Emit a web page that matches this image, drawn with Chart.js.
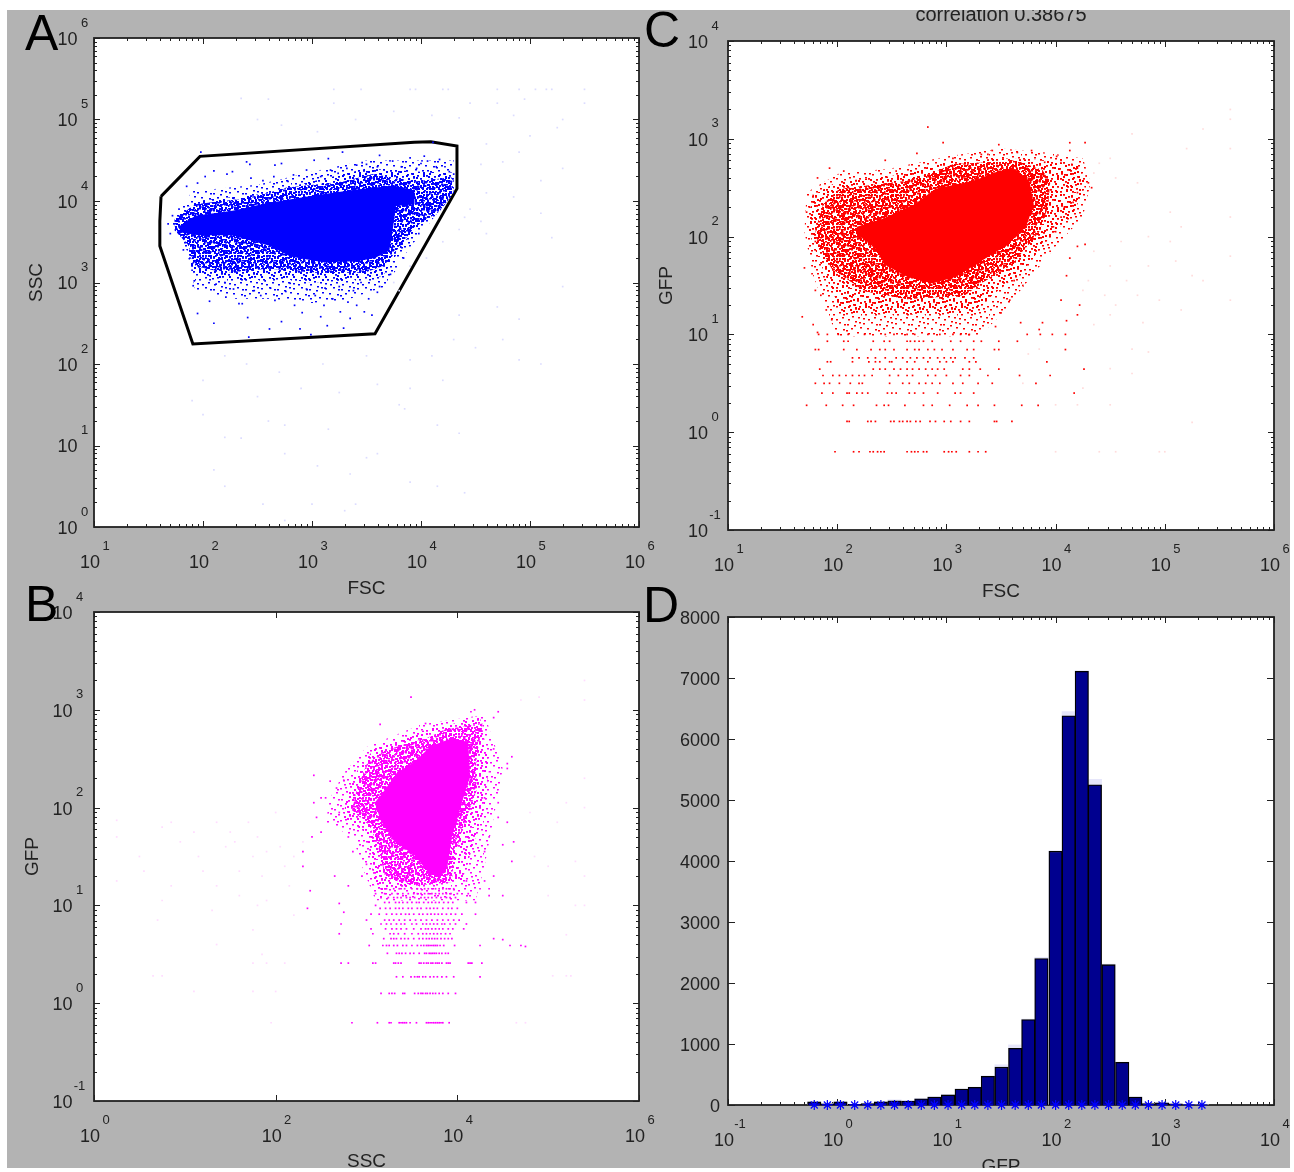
<!DOCTYPE html>
<html><head><meta charset="utf-8">
<script src="https://cdn.jsdelivr.net/npm/chart.js@4"></script>
<style>
html,body{margin:0;padding:0;background:#fff;width:1294px;height:1172px;overflow:hidden}
#sheet{position:absolute;left:7px;top:10px;width:1283px;height:1158px;background:#b3b3b3;overflow:hidden;filter:blur(.45px)}
canvas{position:absolute}
.tag{position:absolute;font:50px/50px "Liberation Sans",sans-serif;color:#000}
</style></head><body>
<div id="sheet"></div>
<script>
// ---------- Values (log10 units of each axis) ----------
const categoriesGFP = [-0.21,-0.09,0.03,0.16,0.28,0.40,0.525,0.65,0.77,0.89,1.015,1.14,1.26,1.38,1.505,1.63,1.75,1.87,2.00,2.12,2.24,2.36,2.485,2.61,2.73,2.85,2.975,3.10,3.22,3.34];
const countsGated = [50,20,50,10,25,50,70,65,100,130,165,260,290,470,620,930,1400,2400,4160,6380,7110,5250,2300,700,130,25,35,20,5,3];
const countsAll   = [55,25,55,12,30,55,85,75,110,140,175,265,295,480,660,985,1410,2420,4170,6450,7120,5340,2310,705,135,30,38,22,8,5];

const gateA = [[1.615,4.057],[1.972,4.548],[3.938,4.722],[4.09,4.726],[4.33,4.675],[4.33,4.151],[3.578,2.372],[1.907,2.246],[1.604,3.449],[1.604,3.753],[1.615,4.057]];
const coreA = [[1.77,3.68],[1.93,3.82],[2.27,3.88],[2.57,3.97],[3.03,4.07],[3.41,4.14],[3.75,4.19],[3.94,4.13],[3.94,3.96],[3.77,3.94],[3.74,3.64],[3.71,3.40],[3.58,3.30],[3.41,3.26],[3.10,3.25],[2.80,3.32],[2.61,3.45],[2.42,3.52],[2.27,3.58],[1.96,3.58],[1.81,3.61]];
const haloA = [[1.74,3.78],[1.93,3.96],[2.38,4.03],[2.80,4.17],[3.29,4.24],[3.56,4.33],[3.94,4.24],[4.28,4.29],[4.30,4.10],[4.17,3.87],[3.94,3.68],[3.81,3.45],[3.67,3.21],[3.48,3.12],[3.03,3.12],[2.61,3.17],[2.19,3.12],[1.91,3.21],[1.87,3.45],[1.74,3.64]];
const midA = [[1.93,4.0],[2.5,4.08],[3.0,4.24],[3.5,4.40],[4.0,4.36],[4.3,4.35],[4.3,4.1],[3.85,3.5],[3.65,3.08],[3.3,3.02],[3.0,3.0],[2.7,3.05],[2.4,3.02],[2.1,3.06],[1.9,3.12],[1.86,3.5],[1.72,3.72]];
const fringeA = [[1.9,4.12],[2.5,4.2],[3.0,4.36],[3.5,4.5],[4.05,4.5],[4.3,4.5],[4.3,4.1],[3.88,3.4],[3.68,2.95],[3.3,2.78],[3.0,2.75],[2.6,2.8],[2.3,2.8],[1.93,2.9],[1.85,3.4],[1.7,3.7]];
const sparseA = [[2.10,2.50],[2.42,2.33],[2.61,2.43],[2.89,2.43],[2.99,2.36],[3.14,2.47],[3.29,2.44],[1.95,2.62],[2.06,2.77],[2.36,2.74],[2.41,2.57],[2.72,2.52],[2.91,2.63],[3.08,2.58],[3.26,2.64],[3.35,2.56],[3.48,2.64],[3.41,2.72],[3.60,2.88],[3.03,2.84],[2.76,2.89],[2.53,2.84],[2.21,2.82],[1.91,2.96],[2.33,2.74],[2.66,2.78],[2.84,2.72],[3.11,2.72],[3.19,2.80],[3.33,2.76],[3.52,2.80],[2.28,2.92],[2.47,2.90],[2.62,2.93],[2.95,2.92],[3.38,2.90],[3.12,2.93],[2.12,2.98],[1.92,3.02],[3.55,2.60],[2.2,3.0],[2.57,3.02],[2.8,2.99],[3.25,2.95],[3.45,3.0],[3.62,2.95],
[2.40,4.48],[2.43,4.45],[2.66,4.44],[2.72,4.46],[3.02,4.50],[3.15,4.52],[3.41,4.44],[3.50,4.45],[3.74,4.49],[3.90,4.53],[4.03,4.55],[4.06,4.49],[4.17,4.51],[4.14,4.42],[3.28,4.60],[3.62,4.56],[4.11,4.72],[2.02,4.3],[2.1,4.37],[2.22,4.33],[2.27,4.36],[2.55,4.25],[2.83,4.32],[2.95,4.38],[3.17,4.38],[3.32,4.40],[3.46,4.47],[3.6,4.42],[3.82,4.42],[3.96,4.40],[4.0,4.46],[4.22,4.42],[4.26,4.36],[4.3,4.33],[1.95,4.22],[1.85,4.18],[2.44,4.28],[2.65,4.3],[2.78,4.24],[3.08,4.3],[3.24,4.34],[1.98,4.6],[1.78,3.9],[1.72,3.82],[1.68,3.72],[1.7,3.6],[1.82,3.4],[1.88,3.3],[1.9,3.15],[4.2,4.2],[4.28,4.24],[3.88,3.75],[3.98,3.6],[3.84,3.3],[3.72,3.1]];
const faintA = [[3.2,5.37],[3.45,5.37],[3.9,5.37],[3.95,5.37],[4.2,5.37],[4.25,5.37],[4.7,5.37],[4.9,5.37],[5.05,5.37],[5.15,5.37],[5.2,5.37],[5.5,5.37],[2.35,5.26],[2.6,5.25],[3.2,5.2],[4.45,5.2],[4.7,5.2],[4.95,5.25],[3.75,5.1],[3.4,5.0],[2.5,5.0],[2.72,4.93],[3.05,4.85],[4.1,5.05],[4.35,5.02],[4.85,5.05],[5.3,5.0],[5.5,5.2],[5.25,4.9],[5.0,4.8],[4.6,4.7],[4.55,4.45],[4.75,4.48],[4.9,4.6],[5.1,4.25],[5.3,4.4],[4.6,4.1],[4.85,4.05],[5.1,3.85],[5.2,3.55],[4.55,3.75],[4.4,3.8],[4.45,3.9],[4.35,3.65],[4.6,3.6],[4.2,3.5],[4.05,3.3],[3.9,3.2],[3.75,3.0],[3.8,2.9],[4.35,2.6],[4.7,2.7],[4.9,2.55],[5.3,2.95],[4.3,2.3],[4.5,2.2],[4.75,2.3],[4.9,2.05],[5.1,2.0],[2.2,2.1],[2.4,2.0],[2.7,1.9],[3.1,2.0],[3.5,2.1],[3.9,2.05],[4.1,2.1],[4.2,1.8],[3.9,1.7],[3.6,1.75],[3.25,1.65],[2.9,1.7],[2.5,1.6],[2.0,1.8],[1.9,1.55],[2.0,1.38],[2.6,1.3],[2.75,1.25],[3.15,1.2],[3.8,1.5],[3.85,1.45],[4.15,1.25],[4.35,1.15],[2.2,1.1],[2.35,1.09],[2.75,0.9],[3.05,0.75],[3.5,0.85],[3.6,0.9],[3.35,0.65],[3.9,0.55],[4.15,0.5],[4.4,0.42],[2.1,0.7],[2.2,0.5],[2.55,0.28],[3.0,0.28],[3.4,0.28],[2.75,0.08],[3.3,0.2]];

const coreC = [[2.18,2.10],[2.41,2.18],[2.71,2.33],[2.90,2.49],[3.25,2.57],[3.48,2.67],[3.63,2.69],[3.76,2.57],[3.80,2.33],[3.73,2.10],[3.55,1.91],[3.32,1.75],[3.09,1.59],[2.87,1.52],[2.64,1.59],[2.44,1.71],[2.33,1.91],[2.18,2.02]];
const haloC = [[1.80,2.06],[1.87,2.33],[2.02,2.49],[2.33,2.53],[2.64,2.57],[2.87,2.65],[3.06,2.74],[3.36,2.76],[3.63,2.78],[3.88,2.68],[3.95,2.55],[3.93,2.3],[3.85,2.05],[3.63,1.75],[3.32,1.52],[3.17,1.40],[2.64,1.36],[2.25,1.44],[1.95,1.67],[1.83,1.91]];
const midC = [[1.82,1.8],[1.95,1.45],[2.05,1.22],[2.6,1.2],[3.25,1.22],[3.42,1.4],[3.7,1.65],[3.95,2.0],[4.17,2.25],[4.28,2.55],[4.2,2.74],[3.9,2.78],[3.5,2.8],[3.0,2.76],[2.5,2.62],[2.0,2.56],[1.77,2.42],[1.74,2.05]];
const fringeC = [[1.78,1.6],[1.9,1.25],[2.0,0.98],[3.3,0.98],[3.5,1.2],[3.75,1.55],[4.0,1.9],[4.25,2.2],[4.32,2.55],[4.25,2.8],[3.9,2.86],[3.5,2.9],[3.0,2.82],[2.5,2.7],[2.0,2.64],[1.72,2.45],[1.7,2.05]];
const sparseC = [[2.83,3.12],[2.97,2.96],[3.48,2.94],[4.13,2.96],[4.27,2.96],[2.44,2.78],[1.93,2.70],[2.73,2.85],[3.65,2.86],[3.78,2.88],[3.38,2.84],[3.06,2.80],[4.01,2.82],[4.13,2.88],[2.06,2.67],[2.54,2.67],[3.32,2.84],[3.42,2.88],[3.9,2.76],[4.05,2.78],[4.2,2.70],[4.28,2.62],[4.3,2.55],[4.33,2.5],[4.2,2.45],[4.16,2.35],[4.08,2.3],[4.05,2.2],[3.98,2.1],[4.0,2.05],[4.27,1.92],[4.2,1.9],[4.13,1.78],[3.95,1.85],[4.1,1.6],[4.05,1.35],[4.22,1.3],[4.2,1.2],[4.1,1.14],[3.88,1.12],[3.85,1.05],[3.62,1.55],[3.7,1.5],[3.58,1.35],[3.5,1.22],[3.68,1.12],[3.45,1.08],[1.7,1.68],[1.77,1.62],[1.8,1.95],[1.72,2.25],[1.75,2.3],[1.78,2.42],[1.82,2.6],[1.8,1.45],[1.68,1.18],[1.78,1.1],[1.85,1.4],[1.9,1.25],[1.95,1.15],[1.82,1.02]];
const faintC = [[5.6,3.3],[5.6,3.2],[5.6,2.9],[5.6,2.2],[5.6,1.8],[5.6,1.35],[5.35,3.1],[4.7,3.05],[5.2,2.9],[4.5,2.8],[4.4,2.75],[4.35,2.65],[4.55,2.6],[4.75,2.55],[5.05,2.25],[5.15,2.1],[5.05,1.95],[4.85,2.0],[4.6,1.95],[4.35,1.85],[4.5,1.7],[4.65,1.55],[4.85,1.7],[5.1,1.75],[5.25,1.6],[5.35,1.55],[4.3,1.55],[4.25,1.45],[4.45,1.4],[4.55,1.3],[4.75,1.4],[4.95,1.35],[5.15,1.25],[4.8,1.12],[4.5,1.2],[4.35,1.1],[4.7,0.85],[4.85,0.82],[4.5,0.65],[3.85,0.85],[3.75,0.8],[3.7,0.5],[4.25,0.45],[4.7,0.6],[5.25,0.1],[4.0,0.28],[4.2,0.28],[4.5,0.28],[4.0,-0.2],[4.4,-0.2],[4.55,-0.2],[4.95,-0.2],[5.0,-0.2]];
const rowLevelsC = [-0.20,0.11,0.275,0.40,0.50,0.58,0.645,0.72,0.76,0.845,0.93,1.0];
const rowPointsC = [
[1.98,2.15,2.20,2.30,2.33,2.37,2.40,2.43,2.64,2.68,2.71,2.74,2.79,2.82,2.98,3.02,3.05,3.09,3.21,3.29,3.36],
[2.09,2.11,2.28,2.31,2.35,2.49,2.52,2.57,2.60,2.64,2.67,2.72,2.76,2.85,2.90,2.98,3.04,3.13,3.21,3.44,3.46,3.60],
[1.72,1.90,2.05,2.15,2.36,2.43,2.47,2.62,2.79,2.87,3.03,3.19,3.29,3.44,3.69,3.84],
[1.86,1.96,2.09,2.11,2.18,2.23,2.28,2.46,2.50,2.54,2.66,2.71,2.79,2.92,3.08,3.13,3.25,4.17],
[1.80,1.88,1.93,2.02,2.12,2.20,2.23,2.48,2.60,2.66,2.75,2.81,2.87,2.94,3.06,3.15,3.29,3.42,3.82],
[1.87,1.96,2.02,2.08,2.14,2.20,2.25,2.32,2.48,2.56,2.64,2.69,2.83,2.90,3.00,3.13,3.21,3.38,3.67,3.95],
[1.84,2.33,2.39,2.44,2.52,2.58,2.64,2.69,2.75,2.81,2.87,2.92,2.98,3.15,3.21,3.31,3.48,4.26],
[1.91,1.94,2.14,2.29,2.35,2.39,2.48,2.50,2.64,2.71,2.83,2.94,3.00,3.06,3.21,3.27,3.92],
[2.14,2.20,2.28,2.35,2.44,2.54,2.60,2.67,2.73,2.79,2.85,2.92,2.98,3.04,3.08,3.17,3.25],
[1.80,1.83,2.06,2.18,2.31,2.39,2.44,2.52,2.64,2.71,2.75,2.83,2.89,2.96,3.06,3.19,3.25,3.44,3.48,4.09],
[1.91,2.06,2.10,2.33,2.43,2.48,2.64,2.67,2.71,2.75,2.79,2.87,3.04,3.13,3.25,3.32,3.48,3.65],
[1.83,1.91,2.01,2.10,2.25,2.44,2.52,2.64,2.71,2.83,2.94,3.06,3.13,3.21,3.74,3.86,3.97,4.09]];

const coreB = [[3.16,2.13],[3.34,2.36],[3.53,2.47],[3.71,2.63],[3.94,2.71],[4.12,2.67],[4.14,2.32],[4.05,2.05],[3.94,1.70],[3.89,1.39],[3.80,1.28],[3.66,1.36],[3.53,1.51],[3.30,1.66],[3.16,1.86],[3.09,2.05]];
const haloB = [[2.89,2.17],[3.00,2.44],[3.21,2.59],[3.66,2.71],[3.87,2.80],[4.16,2.84],[4.28,2.86],[4.21,2.51],[4.21,2.17],[4.07,1.82],[3.96,1.47],[3.94,1.24],[3.53,1.20],[3.21,1.28],[3.12,1.63],[3.03,1.82],[2.84,1.97]];
const midB = [[2.78,2.15],[2.9,2.38],[3.1,2.62],[3.6,2.78],[4.25,2.92],[4.35,2.45],[4.3,2.0],[4.17,1.6],[4.05,1.25],[3.1,1.15],[3.05,1.5],[2.98,1.75],[2.75,1.9]];
const fringeB = [[2.6,2.1],[2.75,2.35],[3.0,2.62],[3.6,2.85],[4.3,2.95],[4.5,2.4],[4.4,1.9],[4.3,1.4],[4.2,1.05],[3.1,1.05],[2.95,1.4],[2.85,1.7],[2.55,1.85]];
const sparseB = [[3.49,3.13],[3.15,2.85],[3.65,2.86],[4.15,2.98],[4.19,3.0],[4.45,2.98],[4.4,2.92],[4.4,2.6],[4.55,2.45],[4.6,2.52],[4.55,2.4],[2.42,2.33],[2.5,2.1],[2.55,2.1],[2.42,2.05],[2.6,2.27],[2.67,2.2],[2.75,2.28],[2.9,2.0],[2.7,1.95],[2.45,1.9],[2.5,1.75],[2.3,1.55],[2.4,1.7],[2.8,1.7],[2.85,1.55],[2.3,1.4],[2.65,1.3],[2.8,1.2],[2.7,1.02],[2.38,1.15],[2.35,0.97],[2.75,0.93],[2.95,1.3],[3.0,1.42],[3.1,1.0],[4.3,2.1],[4.45,2.05],[4.45,1.9],[4.55,1.85],[4.35,1.7],[4.5,1.62],[4.62,1.65],[4.6,1.45],[4.3,1.55],[4.4,1.3],[4.35,1.1],[4.5,1.1],[4.5,0.65],[4.75,0.58],[4.7,0.59],[4.4,0.66],[4.1,1.25],[4.3,1.25]];
const faintB = [[0.25,1.87],[0.25,1.7],[0.25,1.25],[0.5,1.5],[0.55,1.35],[0.75,1.8],[0.75,1.05],[0.7,0.85],[0.85,1.85],[0.85,1.2],[0.95,1.65],[1.1,1.75],[1.15,1.5],[1.2,1.35],[1.35,1.85],[1.35,1.2],[1.3,0.95],[1.35,0.6],[1.45,1.6],[1.5,1.75],[1.55,1.65],[1.6,1.1],[1.6,1.35],[1.7,1.85],[1.8,1.7],[1.75,1.5],[1.85,1.3],[1.8,1.0],[1.75,0.75],[1.85,0.5],[1.9,1.55],[1.9,1.05],[2.0,1.95],[2.05,1.6],[2.1,1.4],[2.15,1.2],[2.2,0.9],[2.3,1.65],[2.2,1.5],[0.65,0.28],[0.75,0.28],[1.1,0.12],[1.75,0.41],[1.9,0.41],[2.1,0.41],[1.95,-0.2],[1.75,0.12],[2.0,0.12],[4.7,3.1],[4.9,3.13],[5.4,3.3],[5.4,3.1],[5.4,2.3],[5.4,2.0],[5.2,2.05],[5.1,1.85],[4.8,1.95],[4.85,1.5],[5.0,1.4],[5.3,1.45],[5.4,1.3],[5.0,1.1],[5.3,1.0],[5.4,1.0],[5.2,0.7],[5.05,0.28],[5.2,0.28],[5.25,0.28],[4.65,-0.2],[4.75,-0.2]];
const rowLevelsB = [-0.20,0.10,0.27,0.41,0.51,0.59,0.66,0.71,0.76,0.81,0.85,0.91,0.97,1.03,1.08,1.12,1.17];
const rowPointsB = [
[2.84,3.12,3.25,3.27,3.36,3.38,3.40,3.42,3.44,3.48,3.55,3.66,3.68,3.70,3.72,3.74,3.76,3.78,3.80,3.82,3.84,3.91],
[3.16,3.25,3.28,3.31,3.40,3.42,3.53,3.57,3.60,3.62,3.65,3.67,3.70,3.73,3.76,3.80,3.84,3.90,3.98],
[3.33,3.40,3.49,3.53,3.56,3.58,3.62,3.65,3.70,3.74,3.78,3.83,3.88,3.96,4.25],
[2.72,2.80,3.07,3.10,3.30,3.32,3.35,3.38,3.58,3.60,3.63,3.66,3.68,3.71,3.73,3.76,3.78,3.80,3.83,3.88,3.90,3.92,4.12,4.14,4.16,4.27],
[3.23,3.33,3.36,3.39,3.43,3.48,3.52,3.58,3.64,3.66,3.69,3.71,3.73,3.75,3.77,3.80,3.83,3.87,3.90],
[3.03,3.18,3.22,3.25,3.30,3.34,3.40,3.44,3.50,3.56,3.60,3.63,3.66,3.68,3.70,3.72,3.74,3.76,3.78,3.81,3.85,3.97,4.25,4.58],
[3.19,3.27,3.30,3.33,3.38,3.42,3.46,3.52,3.58,3.62,3.66,3.69,3.72,3.75,3.78,3.82,3.86,3.90,3.94],
[2.7,3.07,3.26,3.30,3.35,3.42,3.50,3.57,3.62,3.66,3.70,3.74,3.78,3.82,3.87,3.92],
[3.05,3.21,3.28,3.33,3.38,3.44,3.52,3.60,3.65,3.68,3.72,3.76,3.80,3.84,3.90,3.95,4.07],
[2.72,3.16,3.22,3.27,3.33,3.38,3.42,3.50,3.55,3.62,3.66,3.70,3.74,3.78,3.83,3.86,3.92,3.98,4.1],
[3.0,3.2,3.25,3.30,3.36,3.42,3.48,3.54,3.60,3.66,3.72,3.78,3.84,3.90,3.96,4.02],
[3.05,3.14,3.22,3.28,3.33,3.38,3.43,3.47,3.52,3.58,3.62,3.67,3.71,3.75,3.79,3.83,3.88,3.93,3.98,4.05,4.2],
[3.15,3.21,3.26,3.32,3.36,3.40,3.46,3.50,3.56,3.60,3.66,3.70,3.74,3.78,3.84,3.90,3.94,4.0],
[3.2,3.25,3.32,3.36,3.40,3.45,3.50,3.55,3.58,3.63,3.68,3.72,3.76,3.80,3.85,3.90,3.95,4.1,4.2],
[3.16,3.24,3.30,3.34,3.38,3.44,3.48,3.53,3.60,3.64,3.68,3.72,3.77,3.82,3.88,3.92,3.98],
[3.1,3.2,3.28,3.34,3.40,3.46,3.52,3.56,3.60,3.64,3.68,3.72,3.76,3.80,3.84,3.88,3.93,4.0,4.12],
[3.16,3.22,3.30,3.36,3.42,3.50,3.56,3.60,3.64,3.68,3.72,3.76,3.80,3.84,3.88,3.92,3.96,4.25,4.35]];

// ---------- Helpers ----------
const FONT = '"Liberation Sans",Arial,sans-serif';
const INK = '#222';
const RIGHT = 70;
const toPts = pairs => pairs.map(p => ({x: 10 ** p[0], y: 10 ** p[1]}));
const rowsToPairs = (levels, rows) => levels.flatMap((l, i) => rows[i].map(v => [v, l]));
const isDecade = v => Math.abs(Math.log10(v) - Math.round(Math.log10(v))) < 1e-6;

// Grain texture for the zones too dense to hand-list; a style, not data.
const tileDots = [[1,2],[9,1],[17,3],[25,0],[30,6],[5,7],[13,8],[21,7],[27,11],[2,12],[10,13],[18,12],[23,15],[29,17],[6,17],[14,18],[0,20],[20,20],[26,22],[9,23],[3,25],[16,24],[22,27],[12,28],[28,28],[6,30],[18,30],[31,25],[24,4],[14,3],[7,12],[25,19],[11,20],[19,16],[3,16],[29,1],[13,25],[21,23],[1,29],[16,9]];
function speckle(color, level, S=32) {
  const c = document.createElement('canvas'); c.width = c.height = S;
  const g = c.getContext('2d'); g.fillStyle = color;
  tileDots.forEach(([a, b]) => {
    g.fillRect(a % S, b % S, 2, 1.5);
    if (level > 1) g.fillRect(b % S, (31 - a) % S, 2, 2);
    if (level > 2) {
      g.fillRect((38 - a) % S, (b + 11) % S, 2, 2);
      g.fillRect(a % S, (b + 17) % S, 2, 1.5);
      g.fillRect((31 - b) % S, (a + 5) % S, 2, 2);
      g.fillRect((a + 13) % S, (31 - b) % S, 1.5, 2);
    }
  });
  return g.createPattern(c, 'repeat');
}

const polygon = (pairs, fillStyle) => ({type:'scatter', data:toPts(pairs), showLine:true, fill:'shape', tension:0, borderWidth:0, borderColor:'transparent', backgroundColor:fillStyle, pointRadius:0});
const dots = (pairs, color, r=1.2) => ({type:'scatter', data:toPts(pairs), showLine:false, pointStyle:'rect', pointRadius:r, pointBorderWidth:0, borderWidth:0, backgroundColor:color, pointBackgroundColor:color});

const boxPlugin = {
  id:'box',
  beforeDatasetsDraw(chart, args, o) {
    const {ctx, chartArea:a, scales:{x, y}} = chart;
    ctx.save();
    ctx.fillStyle = '#fff'; ctx.fillRect(a.left, a.top, a.width, a.height);
    ctx.strokeStyle = INK; ctx.lineWidth = 1;
    const tick = (v, horiz, len) => {
      ctx.beginPath();
      if (horiz) { const p = Math.round(x.getPixelForValue(v)) + .5; ctx.moveTo(p, a.bottom); ctx.lineTo(p, a.bottom - len); ctx.moveTo(p, a.top); ctx.lineTo(p, a.top + len); }
      else { const p = Math.round(y.getPixelForValue(v)) + .5; ctx.moveTo(a.left, p); ctx.lineTo(a.left + len, p); ctx.moveTo(a.right, p); ctx.lineTo(a.right - len, p); }
      ctx.stroke();
    };
    const logTicks = (lo, hi, step, minor, horiz) => {
      for (let k = lo; k <= hi; k++) {
        if ((k - lo) % step === 0) tick(10 ** k, horiz, 6);
        if (minor && k < hi) for (let m = 2; m < 10; m++) tick(m * 10 ** k, horiz, 3);
      }
    };
    logTicks(o.x[0], o.x[1], o.x[2], o.x[3], true);
    if (o.y) logTicks(o.y[0], o.y[1], 1, true, false);
    else y.ticks.forEach(t => tick(t.value, false, 7));
    ctx.lineWidth = 1.8;
    ctx.strokeRect(a.left, a.top, a.width, a.height);
    ctx.restore();
  },
  afterDraw(chart, args, o) {
    const {ctx, chartArea:a, scales:{x, y}} = chart;
    ctx.save();
    ctx.fillStyle = INK; ctx.font = '13px ' + FONT; ctx.textAlign = 'center'; ctx.textBaseline = 'middle';
    for (let k = o.x[0]; k <= o.x[1]; k += o.x[2]) ctx.fillText(String(k), x.getPixelForValue(10 ** k) + 12, a.bottom + 19);
    if (o.y) for (let k = o.y[0]; k <= o.y[1]; k++) ctx.fillText(String(k), a.left - o.pad + 7, y.getPixelForValue(10 ** k) - 15);
    ctx.restore();
  }
};

function logAxis(lo, hi, step, titleText, horiz, pad, titlePad) {
  return {
    type:'logarithmic', min:10 ** lo, max:10 ** hi, offset:false,
    grid:{display:false, drawTicks:false}, border:{display:false},
    ticks:{color:INK, font:{family:FONT, size:18}, autoSkip:false, maxRotation:0, minRotation:0,
      padding: pad, labelOffset: horiz ? -4 : 2,
      callback: v => (isDecade(v) && (Math.round(Math.log10(v)) - lo) % step === 0) ? '10' : ''},
    title: {display:true, text:titleText, color:INK, font:{family:FONT, size:19},
      padding: horiz ? {top:0, bottom:titlePad} : {top:titlePad, bottom:0}},
    afterFit: s => { if (horiz) s.height = 80; else s.width = 90; }
  };
}

function mount(L, T, W, H, config) {
  const c = document.createElement('canvas');
  c.width = 90 + W + RIGHT; c.height = 40 + H + 80;
  c.style.left = (L - 7 - 90) + 'px'; c.style.top = (T - 10 - 40) + 'px';
  document.getElementById('sheet').appendChild(c);
  config.options = Object.assign({responsive:false, animation:false, events:[], layout:{padding:{top:40, right:RIGHT, left:0, bottom:0}}}, config.options);
  config.plugins = [boxPlugin];
  return new Chart(c, config);
}

const BLUE='#0000ff', PALEB='#dcdcff', RED='#ff0000', PALER='#ffdcdc', MAG='#ff00ff', PALEM='#ffdcff';

// Panel A
mount(94, 38, 545, 489, {type:'scatter', data:{datasets:[
  dots(faintA, PALEB),
  polygon(fringeA, speckle(BLUE,1)),
  polygon(midA, speckle(BLUE,2)),
  polygon(haloA, speckle(BLUE,3)),
  polygon(haloA, speckle(BLUE,1,29)),
  polygon(coreA, BLUE),
  dots(sparseA, BLUE),
  {type:'scatter', data:toPts(gateA), showLine:true, tension:0, borderColor:'#000', borderWidth:3, pointRadius:0, fill:false}
]}, options:{plugins:{legend:{display:false}, box:{x:[1,6,1,true], y:[0,6], pad:16.5}},
  scales:{x:logAxis(1,6,1,'FSC',true,25,7), y:logAxis(0,6,1,'SSC',false,16.5,21)}}});

// Panel B
mount(94, 612, 545, 489, {type:'scatter', data:{datasets:[
  dots(faintB, PALEM),
  polygon(fringeB, speckle(MAG,1)),
  polygon(midB, speckle(MAG,2)),
  polygon(haloB, speckle(MAG,3)),
  polygon(haloB, speckle(MAG,1,29)),
  polygon(coreB, MAG),
  dots(sparseB, MAG),
  dots(rowsToPairs(rowLevelsB, rowPointsB), MAG)
]}, options:{plugins:{legend:{display:false}, box:{x:[0,6,2,false], y:[-1,4], pad:21.5}},
  scales:{x:logAxis(0,6,2,'SSC',true,25,8), y:logAxis(-1,4,1,'GFP',false,21.5,17)}}});

// Panel C
mount(728, 41, 546, 489, {type:'scatter', data:{datasets:[
  dots(faintC, PALER),
  polygon(fringeC, speckle(RED,1)),
  polygon(midC, speckle(RED,2)),
  polygon(haloC, speckle(RED,3)),
  polygon(haloC, speckle(RED,1,29)),
  polygon(coreC, RED),
  dots(sparseC, RED),
  dots(rowsToPairs(rowLevelsC, rowPointsC), RED)
]}, options:{layout:{padding:{top:0, right:RIGHT, left:0, bottom:0}},
  plugins:{legend:{display:false},
    title:{display:true, fullSize:false, text:'correlation 0.38675', color:INK, font:{family:FONT, size:20, weight:'normal'}, padding:{top:2, bottom:14}},
    box:{x:[1,6,1,true], y:[-1,4], pad:20}},
  scales:{x:logAxis(1,6,1,'FSC',true,25,7), y:logAxis(-1,4,1,'GFP',false,20,17)}}});

// Panel D
const barsAt = vals => categoriesGFP.map((l, i) => ({x: 10 ** l, y: vals[i]}));
const yD = {type:'linear', min:0, max:8000, grid:{display:false, drawTicks:false}, border:{display:false},
  ticks:{stepSize:1000, color:INK, font:{family:FONT, size:18}, padding:8, labelOffset:2, callback:v => String(v)},
  afterFit:s => { s.width = 90; }};
mount(728, 617, 546, 488, {type:'bar', data:{datasets:[
  {type:'line', data:categoriesGFP.map(l => ({x: 10 ** l, y: 0})), showLine:false, pointStyle:'star', pointRadius:5, pointBorderWidth:1.2, pointBorderColor:BLUE, borderColor:BLUE, clip:false, order:0},
  {type:'bar', data:barsAt(countsGated), backgroundColor:'#00008f', borderColor:'#000', borderWidth:1.3, barThickness:13.4, grouped:false, order:1},
  {type:'bar', data:barsAt(countsAll), backgroundColor:'#e6e6fa', borderWidth:0, barThickness:13.4, grouped:false, order:2}
]}, options:{plugins:{legend:{display:false}, box:{x:[-1,4,1,true], pad:0}},
  scales:{x:logAxis(-1,4,1,'GFP',true,25,7), y:yD}}});

// Panel letters
[['A',18,-12],['B',18,559],['C',637,-15],['D',636,560]].forEach(([t, l, tp]) => {
  const d = document.createElement('div'); d.className = 'tag'; d.textContent = t;
  d.style.left = l + 'px'; d.style.top = (tp + 10) + 'px';
  document.getElementById('sheet').appendChild(d);
});
</script>
</body></html>
